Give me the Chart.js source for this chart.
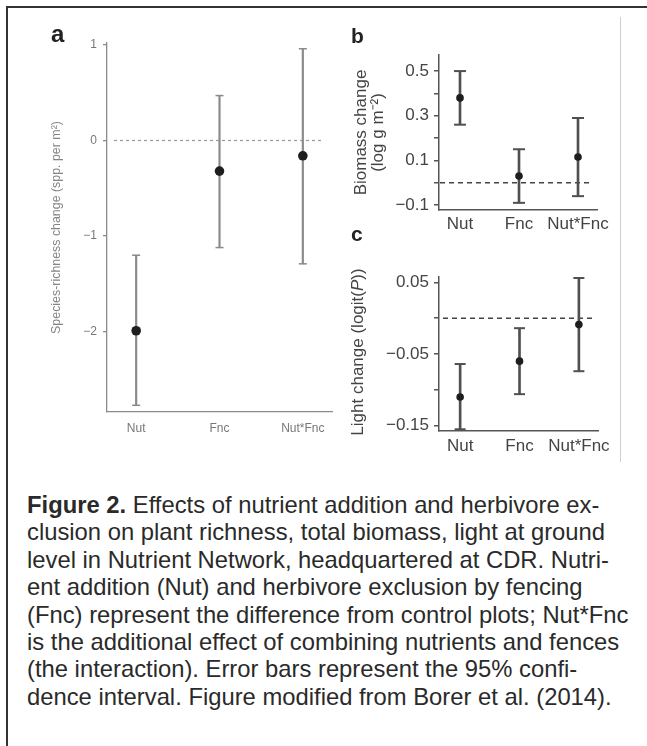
<!DOCTYPE html>
<html>
<head>
<meta charset="utf-8">
<script src="https://cdn.jsdelivr.net/npm/chart.js@4.4.1/dist/chart.umd.min.js"></script>
<style>
  body { margin: 0; background: #fff; width: 647px; height: 746px; overflow: hidden; position: relative;
         font-family: "Liberation Sans", Arial, sans-serif; }
  .frame { position: absolute; left: 6px; top: 6px; width: 700px; height: 800px;
           border-top: 2px solid #333; border-left: 2px solid #333; }
  .divider { position: absolute; left: 620px; top: 17px; width: 1px; height: 445px; background: #cfcfcf; }
  canvas { position: absolute; }
  .tag { position: absolute; font-weight: bold; line-height: 1; color: #222; }
  .ytitle { position: absolute; white-space: nowrap; line-height: 1; font-size: 17px; color: #444;
            transform: translate(-50%, -50%) rotate(-90deg); }
  .caption { position: absolute; left: 27px; top: 491px; font-size: 23.8px; line-height: 27.4px;
             color: #2a2a2a; white-space: nowrap; }
</style>
</head>
<body>
<div class="frame"></div>
<div class="divider"></div>

<canvas id="richness" width="345" height="450" style="left:0; top:0;"></canvas>
<canvas id="biomass" width="280" height="240" style="left:340px; top:0;"></canvas>
<canvas id="light" width="280" height="240" style="left:340px; top:225px;"></canvas>

<div class="tag" style="left:51px; top:22px; font-size:24px;">a</div>
<div class="tag" style="left:351px; top:25px; font-size:21px;">b</div>
<div class="tag" style="left:351px; top:223px; font-size:21px;">c</div>
<div class="ytitle" style="left:357px; top:352px;">Light change (logit(<i>P</i>))</div>

<div class="caption"><b>Figure 2.</b> Effects of nutrient addition and herbivore ex-<br>clusion on plant richness, total biomass, light at ground<br>level in Nutrient Network, headquartered at CDR. Nutri-<br>ent addition (Nut) and herbivore exclusion by fencing<br>(Fnc) represent the difference from control plots; Nut*Fnc<br>is the additional effect of combining nutrients and fences<br>(the interaction). Error bars represent the 95% confi-<br>dence interval. Figure modified from Borer et al. (2014).</div>

<script>
const FONT = '"Liberation Sans", Arial, sans-serif';
const CATEGORIES = ['Nut', 'Fnc', 'Nut*Fnc'];

// a - species richness change (spp. per m2)
const richMean = [-1.99, -0.32, -0.16];
const richLow = [-2.77, -1.12, -1.29];
const richHigh = [-1.20, 0.47, 0.96];
const richTicks = [-2, -1, 0, 1];
const richTickLabels = ['\u22122', '\u22121', '0', '1'];

// b - biomass change (log g m-2)
const bioMean = [0.38, 0.03, 0.115];
const bioLow = [0.26, -0.09, -0.06];
const bioHigh = [0.50, 0.15, 0.29];
const bioTicks = [-0.1, 0, 0.1, 0.2, 0.3, 0.4, 0.5];
const bioTickLabels = ['\u22120.1', '', '0.1', '', '0.3', '', '0.5'];

// c - light change (logit(P))
const lightMean = [-0.11, -0.06, -0.009];
const lightLow = [-0.155, -0.106, -0.074];
const lightHigh = [-0.064, -0.014, 0.056];
const lightTicks = [-0.15, -0.1, -0.05, 0, 0.05];
const lightTickLabels = ['\u22120.15', '', '\u22120.05', '', '0.05'];

// dashed reference line at zero
const zeroLine = {
  id: 'zeroLine',
  beforeDatasetsDraw(chart, args, opts) {
    const { ctx, chartArea } = chart;
    const y = chart.scales.y.getPixelForValue(0);
    ctx.save();
    ctx.strokeStyle = opts.color;
    ctx.lineWidth = opts.width;
    ctx.setLineDash(opts.dash);
    ctx.beginPath();
    ctx.moveTo(chartArea.left + opts.insetLeft, y);
    ctx.lineTo(chartArea.right - opts.insetRight, y);
    ctx.stroke();
    ctx.restore();
  }
};

function errorChart(id, s) {
  const n = CATEGORIES.length;
  return new Chart(document.getElementById(id), {
    type: 'scatter',
    data: {
      datasets: [
        {
          type: 'bar',
          data: s.low.map((lo, i) => ({ x: i, y: [lo, s.high[i]] })),
          backgroundColor: s.barColor,
          barThickness: s.barWidth,
          order: 3
        },
        {
          data: s.low.concat(s.high).map((v, i) => ({ x: i % n, y: v })),
          pointStyle: 'line',
          radius: s.cap,
          borderColor: s.barColor,
          borderWidth: s.barWidth,
          order: 2
        },
        {
          data: s.mean.map((v, i) => ({ x: i, y: v })),
          pointStyle: 'circle',
          radius: s.dot,
          backgroundColor: '#1e1e1e',
          borderWidth: 0,
          order: 1
        }
      ]
    },
    options: {
      responsive: false,
      animation: false,
      events: [],
      layout: { padding: s.padding },
      plugins: {
        legend: { display: false },
        tooltip: { enabled: false },
        zeroLine: s.zero
      },
      scales: {
        x: {
          type: 'linear',
          min: s.xMin,
          max: s.xMax,
          offset: false,
          afterBuildTicks: sc => { sc.ticks = CATEGORIES.map((c, i) => ({ value: i })); },
          afterFit: sc => { sc.height = s.xHeight; },
          grid: { display: false, drawTicks: false },
          border: { display: true, color: s.axisColor, width: s.axisWidth },
          ticks: {
            callback: (v, i) => CATEGORIES[i],
            color: s.textColor,
            font: { family: FONT, size: s.tickSize },
            padding: s.xPad,
            maxRotation: 0,
            autoSkip: false
          }
        },
        y: {
          min: s.yMin,
          max: s.yMax,
          afterBuildTicks: sc => { sc.ticks = s.ticks.map(v => ({ value: v })); },
          afterFit: sc => { sc.width = s.yWidth; },
          grid: { drawOnChartArea: false, drawTicks: true, tickLength: s.tickLen,
                  color: s.axisColor, lineWidth: s.axisWidth },
          border: { display: true, color: s.axisColor, width: s.axisWidth },
          ticks: {
            callback: (v, i) => s.tickLabels[i],
            color: s.textColor,
            font: { family: FONT, size: s.tickSize },
            padding: s.yPad,
            autoSkip: false
          },
          title: s.title
        }
      }
    },
    plugins: [zeroLine]
  });
}

errorChart('richness', {
  mean: richMean, low: richLow, high: richHigh,
  ticks: richTicks, tickLabels: richTickLabels,
  xMin: -0.35, xMax: 2.35, yMin: -2.84, yMax: 1.02,
  padding: { left: 0, right: 13, top: 43, bottom: 8 },
  xHeight: 30, yWidth: 107, xPad: 9, yPad: 6, tickLen: 4,
  tickSize: 12, textColor: '#777', axisColor: '#8a8a8a', axisWidth: 1.3,
  barColor: '#8a8a8a', barWidth: 1.5, cap: 4, dot: 4.8,
  zero: { color: '#999', width: 1.2, dash: [3, 3], insetLeft: 7, insetRight: 10 },
  title: { display: true, text: 'Species-richness change (spp. per m\u00b2)', color: '#858585',
           font: { family: FONT, size: 12.4 }, padding: { top: 49.5, bottom: 0 } }
});

errorChart('biomass', {
  mean: bioMean, low: bioLow, high: bioHigh,
  ticks: bioTicks, tickLabels: bioTickLabels,
  xMin: -0.356, xMax: 2.322, yMin: -0.122, yMax: 0.572,
  padding: { left: 0, right: 23, top: 55, bottom: 5 },
  xHeight: 25, yWidth: 99, xPad: 4, yPad: 5, tickLen: 5,
  tickSize: 17, textColor: '#444', axisColor: '#555', axisWidth: 1.5,
  barColor: '#505050', barWidth: 2, cap: 6, dot: 3.8,
  zero: { color: '#444', width: 1.5, dash: [5, 4], insetLeft: 1, insetRight: 5 },
  title: { display: true, text: ['Biomass change', '(log g m\u207b\u00b2)'], color: '#444',
           font: { family: FONT, size: 17, lineHeight: 1 }, padding: { top: 13, bottom: 0 } }
});

errorChart('light', {
  mean: lightMean, low: lightLow, high: lightHigh,
  ticks: lightTicks, tickLabels: lightTickLabels,
  xMin: -0.356, xMax: 2.322, yMin: -0.1574, yMax: 0.0574,
  padding: { left: 0, right: 22, top: 52, bottom: 9 },
  xHeight: 25, yWidth: 99, xPad: 5, yPad: 5, tickLen: 5,
  tickSize: 17, textColor: '#444', axisColor: '#555', axisWidth: 1.5,
  barColor: '#505050', barWidth: 2, cap: 5.5, dot: 3.8,
  zero: { color: '#444', width: 1.5, dash: [5, 4], insetLeft: 4, insetRight: 5 },
  title: { display: false }
});
</script>
</body>
</html>
